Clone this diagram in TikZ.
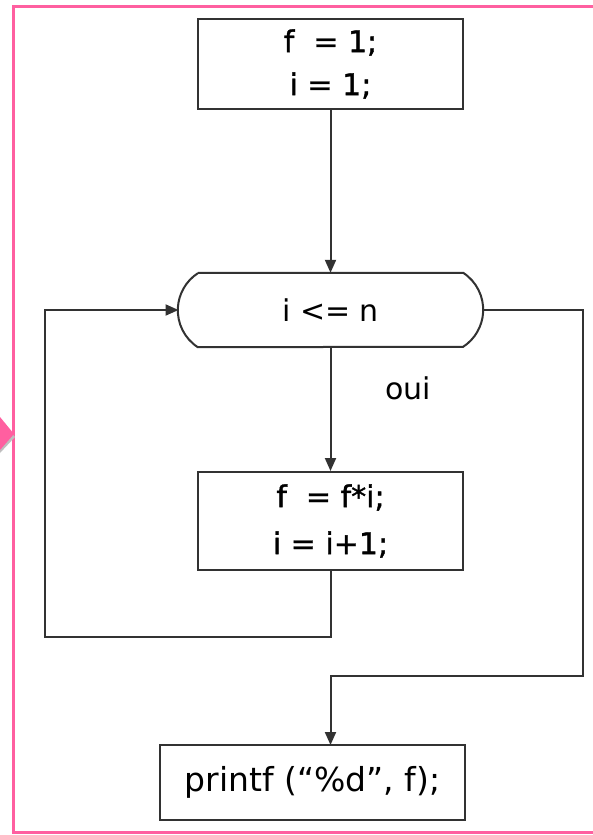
\documentclass[tikz,border=0pt]{standalone}
\usepackage{fontspec}
\setmainfont{DejaVu Sans}
\newfontfamily\heavyfont[FakeBold=1.2]{DejaVu Sans}
\usetikzlibrary{arrows.meta}
\definecolor{framepink}{RGB}{255,95,160}
\definecolor{linegray}{RGB}{50,50,50}
\begin{document}
\begin{tikzpicture}[x=1pt,y=1pt,
  box/.style={draw=linegray, line width=2pt, rectangle, inner sep=0pt, align=center, fill=white},
  lbl/.style={inner sep=0pt},
  arr/.style={draw=linegray, line width=2pt, -{Triangle[length=13pt,width=11pt]}},
  wire/.style={draw=linegray, line width=2pt},
  bigtxt/.style={font=\fontsize{30}{43}\selectfont}]
\useasboundingbox (0,0) rectangle (592,-835);
\fill[white] (0,0) rectangle (592,-835);
% pink frame (right side outside the picture)
\draw[framepink, line width=3pt] (600,-6) -- (13,-6) -- (13,-832) -- (600,-832);
\fill[black!25] (0,-420) -- (15,-437) -- (0,-453) -- cycle;
\fill[framepink] (0,-417) -- (14,-434) -- (0,-450) -- cycle;

% nodes
\node[box, minimum width=265pt, minimum height=90pt, font=\heavyfont\fontsize{30}{43}\selectfont] (init) at (330.5,-64)
  {f \ = 1;\\i = 1;};
\node[minimum width=265pt, minimum height=74pt, inner sep=0pt, bigtxt] (cond) at (330.5,-310) {};
\draw[wire] (cond.north west) -- (cond.north east)
  arc[start angle=56.8, end angle=-56.8, radius=44.2pt]
  -- (cond.south west)
  arc[start angle=236.8, end angle=123.2, radius=44.2pt];
\node[lbl, bigtxt] (condtxt) at (cond.center) {i <= n};
\coordinate (condL) at (178.5,-310);
\coordinate (condR) at (482.5,-310);

\node[box, minimum width=265pt, minimum height=98pt, font=\heavyfont\fontsize{30}{47}\selectfont] (body) at (330.5,-521)
  {f \ = f*i;\\i = i+1;};
\node[lbl, bigtxt] (oui) at (408,-388) {oui};

\node[box, minimum width=305pt, minimum height=75pt, font=\fontsize{33}{40}\selectfont] (out) at (312.5,-782.5)
  {printf (“\%d”, f);};

\coordinate (lb) at (45,-637);
\coordinate (rt) at (583,-676);
\coordinate (outin) at (330.5,-745);

% connectors
\draw[arr] (init.south) -- (cond.north);
\draw[arr] (cond.south) -- (body.north);
\draw[arr] (body.south) |- (lb) |- (condL);
\draw[arr] (condR) -| (rt) -| (outin);
\end{tikzpicture}
\end{document}
